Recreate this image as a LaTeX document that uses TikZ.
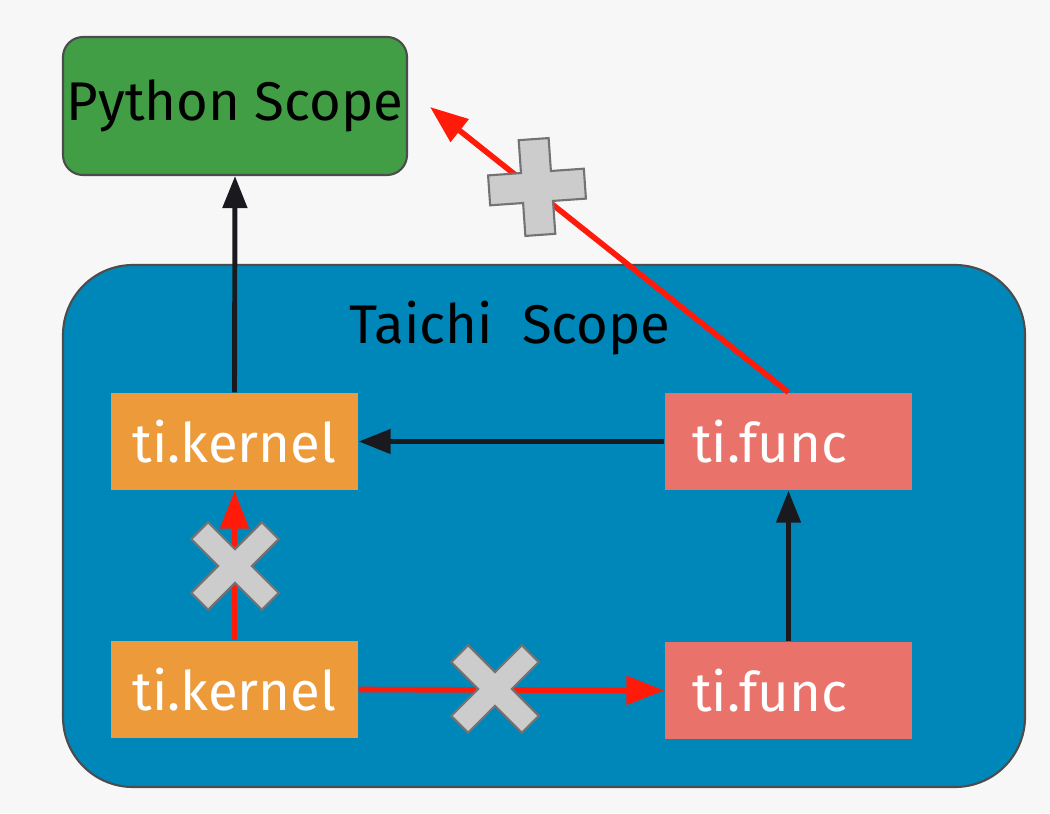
\documentclass[tikz,border=0pt]{standalone}
\usepackage{fontspec}
\setmainfont{Fira Sans}
\usepackage{xcolor}
\usetikzlibrary{arrows.meta}
\definecolor{bggray}{RGB}{247,247,247}
\definecolor{pygreen}{RGB}{66,158,68}
\definecolor{tiblue}{RGB}{0,135,185}
\definecolor{kernorange}{RGB}{236,154,58}
\definecolor{funcsalmon}{RGB}{233,115,106}
\definecolor{nogray}{RGB}{204,204,204}
\definecolor{okblack}{RGB}{26,26,30}
\definecolor{badred}{RGB}{255,26,10}
\tikzstyle{scopebox} = [rectangle, rounded corners=0.2cm,
draw=black!70, line width=0.6pt,
text=black, inner sep=0pt]
\tikzstyle{kernbox} = [rectangle,
fill=kernorange,
minimum width=2.47cm,
minimum height=0.97cm,
text=white, inner sep=0pt]
\tikzstyle{funcbox} = [rectangle,
fill=funcsalmon,
text width=1.93cm, align=left,
inner xsep=0.27cm,
minimum height=0.97cm,
text=white]
\tikzstyle{okarrow} = [draw=okblack, line width=1.4pt, -{Triangle[length=0.32cm, width=0.24cm]}]
\tikzstyle{badarrow} = [draw=badred, line width=1.6pt, -{Triangle[length=0.38cm, width=0.28cm]}]
\tikzstyle{nomark} = [fill=nogray, draw=black!55, line width=0.6pt]
% cross mark: centre, rotation, half length, half thickness
\newcommand{\crossmark}[5]{%
  \draw[nomark, shift={(#1,#2)}, rotate=#3]
    (#5,#5) -- (#5,#4) -- (-#5,#4) -- (-#5,#5) -- (-#4,#5) -- (-#4,-#5)
    -- (-#5,-#5) -- (-#5,-#4) -- (#5,-#4) -- (#5,-#5) -- (#4,-#5) -- (#4,#5) -- cycle;}

\begin{document}
\begin{tikzpicture}[font=\fontsize{15.5}{18}\selectfont]
		\fill[bggray] (0,0) rectangle (10.5,8.13);
		\useasboundingbox (0,0) rectangle (10.5,8.13);

		\node (python) [scopebox, fill=pygreen, minimum width=3.44cm, minimum height=1.38cm] at (2.35,7.07) {Python Scope};
		\node (taichi) [scopebox, rounded corners=0.7cm, fill=tiblue, minimum width=9.62cm, minimum height=5.22cm] at (5.44,2.87) {};
		\node (tilabel) at (5.10,4.85) {Taichi\ \ Scope};

		\node (kerntop) [kernbox] at (2.345,3.715) {ti.kernel};
		\node (functop) [funcbox] at (7.885,3.715) {ti.func};
		\node (kernbot) [kernbox] at (2.345,1.235) {ti.kernel};
		\node (funcbot) [funcbox] at (7.885,1.225) {ti.func};
		\coordinate (pyright) at (4.30,7.06);

		\draw [okarrow] (kerntop.north) -- (python.south);
		\draw [okarrow] (functop.west) -- (kerntop.east);
		\draw [okarrow] (funcbot.north) -- (functop.south);

		\draw [badarrow] (kernbot.north) -- (kerntop.south);
		\draw [badarrow] (kernbot.east) -- (funcbot.west);
		\draw [badarrow] (functop.north) -- (pyright);

		\crossmark{2.35}{2.47}{45}{0.50}{0.12}
		\crossmark{4.95}{1.24}{45}{0.50}{0.12}
		\crossmark{5.37}{6.26}{4}{0.48}{0.15}
	\end{tikzpicture}
\end{document}
